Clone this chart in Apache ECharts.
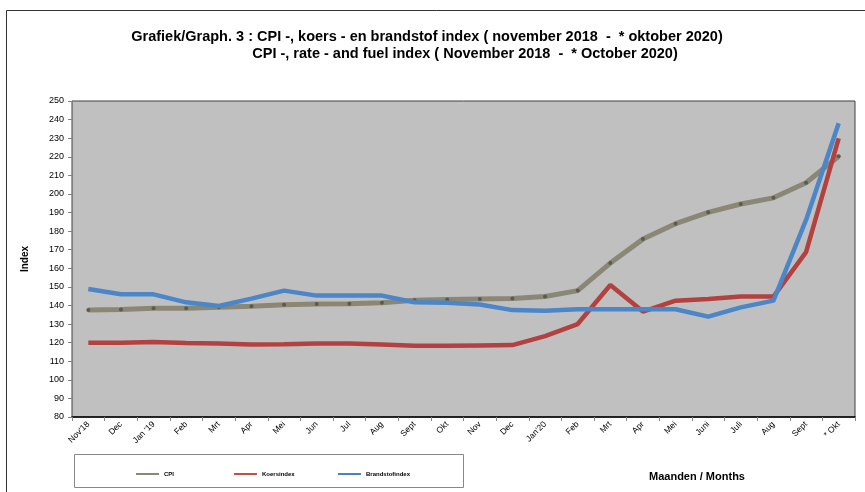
<!DOCTYPE html>
<html>
<head>
<meta charset="utf-8">
<script src="https://cdn.jsdelivr.net/npm/echarts@6/dist/echarts.min.js"></script>
<style>html,body{margin:0;padding:0;background:#fff}#c{width:865px;height:492px}</style>
</head>
<body>
<div id="c"></div>
<script>
const categories = ["Nov'18","Dec","Jan '19","Feb","Mrt","Apr","Mei","Jun","Jul","Aug","Sept","Okt","Nov","Dec","Jan'20","Feb","Mrt","Apr","Mei","Juni","Juli","Aug","Sept","* Okt"];
const cpi = [137.6,137.8,138.5,138.5,139.0,139.6,140.4,140.8,140.9,141.5,142.8,143.2,143.5,143.8,144.8,148.0,162.8,175.7,184.0,190.1,194.6,197.9,206.0,220.3];
const koers = [120.0,120.0,120.3,119.8,119.5,119.0,119.2,119.5,119.5,119.0,118.3,118.3,118.5,118.7,123.5,130.0,151.0,136.7,142.6,143.5,144.8,144.8,168.7,229.9];
const brandstof = [148.9,146.0,146.0,141.7,139.7,143.7,148.0,145.3,145.3,145.3,141.7,141.5,140.5,137.5,137.2,138.0,138.0,138.0,138.0,134.0,139.0,142.6,186.0,238.0];
const yMin = 80, yMax = 250, yStep = 10;

const chart = echarts.init(document.getElementById('c'), null, {renderer:'canvas'});
const FONT = 'Liberation Sans, Arial, sans-serif';
const legendBase = {
  top: 466, itemWidth: 23, itemHeight: 2, itemGap: 6,
  icon: 'rect',
  textStyle: {fontSize: 6, fontWeight: 'bold', color: '#000', fontFamily: FONT}
};
chart.setOption({
  animation: false,
  backgroundColor: '#fff',
  textStyle: {fontFamily: FONT},
  graphic: [
    {type:'rect', shape:{x:6.5, y:10.5, width:900, height:500}, style:{fill:null, stroke:'#333', lineWidth:1}, silent:true, z:-10},
    {type:'rect', shape:{x:74.5, y:454.5, width:389, height:33}, style:{fill:'#fff', stroke:'#888', lineWidth:1}, silent:true, z:-5},
    {type:'text', x:427, y:29, style:{text:'Grafiek/Graph. 3 : CPI -, koers - en brandstof index ( november 2018  -  * oktober 2020)', font:'bold 14.5px '+FONT, fill:'#000', textAlign:'center'}},
    {type:'text', x:465, y:46, style:{text:'CPI -, rate - and fuel index ( November 2018  -  * October 2020)', font:'bold 14.5px '+FONT, fill:'#000', textAlign:'center'}},
    {type:'text', x:697, y:471, style:{text:'Maanden / Months', font:'bold 11px '+FONT, fill:'#000', textAlign:'center'}}
  ],
  legend: [
    Object.assign({left:131, data:[{name:'CPI', itemStyle:{color:'#8a8776'}}]}, legendBase),
    Object.assign({left:229, data:[{name:'Koersindex', itemStyle:{color:'#c0504d'}}]}, legendBase),
    Object.assign({left:333, data:[{name:'Brandstofindex', itemStyle:{color:'#4f81bd'}}]}, legendBase)
  ],
  grid: {left:72, right:10, top:101, bottom:75, show:true, backgroundColor:'#c0c0c0', borderColor:'#404040', borderWidth:1},
  xAxis: {
    type:'category', data: categories, boundaryGap:true,
    axisLine:{lineStyle:{color:'#000', width:1.5}},
    axisTick:{show:true, length:4, lineStyle:{color:'#888'}},
    axisLabel:{rotate:45, fontSize:8.5, color:'#000', margin:6, interval:0}
  },
  yAxis: {
    type:'value', min:yMin, max:yMax, interval:yStep,
    name:'Index', nameLocation:'middle', nameRotate:90, nameGap:42,
    nameTextStyle:{fontSize:10, fontWeight:'bold', color:'#000'},
    axisLine:{show:true, lineStyle:{color:'#808080'}},
    axisTick:{show:true, length:4, lineStyle:{color:'#808080'}},
    axisLabel:{fontSize:9, color:'#000', margin:8},
    splitLine:{show:false}
  },
  series: [
    {name:'CPI', type:'line', data:cpi, color:'#8a8776',
     lineStyle:{width:5, color:'#8a8776'}, symbol:'circle', symbolSize:4,
     itemStyle:{color:'#5c5a48'}, z:3},
    {name:'Koersindex', type:'line', data:koers, color:'#b3413f',
     lineStyle:{width:4.5, color:'#b3413f'}, symbol:'none', z:4},
    {name:'Brandstofindex', type:'line', data:brandstof, color:'#4a86c8',
     lineStyle:{width:4.5, color:'#4a86c8'}, symbol:'none', z:5}
  ]
});
</script>
</body>
</html>
